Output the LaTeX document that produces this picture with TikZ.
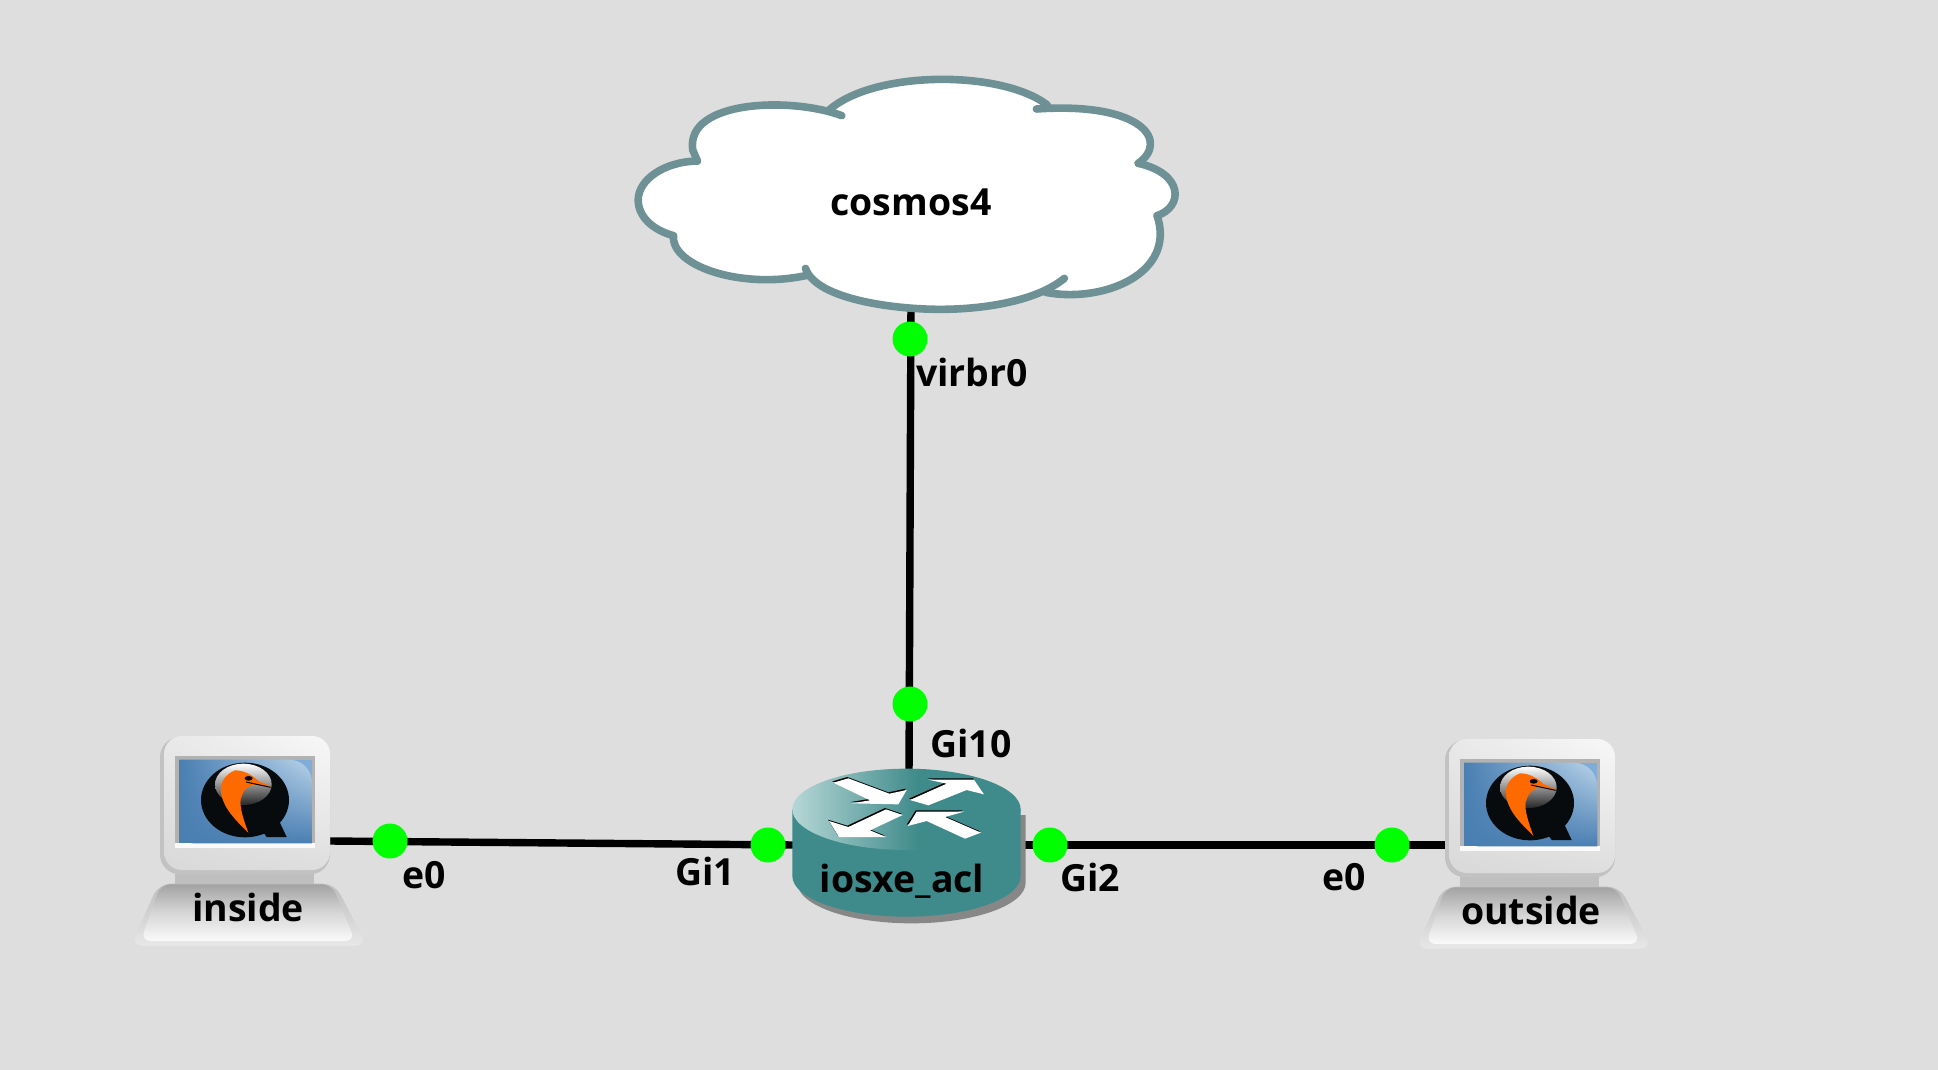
\documentclass[tikz,border=0pt]{standalone}
\usepackage{fontspec}
\setmainfont{Open Sans}
\usetikzlibrary{calc,shadings}
\definecolor{bgc}{HTML}{DEDEDE}
\definecolor{cloudline}{HTML}{6E9196}
\definecolor{teal1}{HTML}{3F8A8A}
\definecolor{teallight}{HTML}{B8D8D8}
\definecolor{portgreen}{HTML}{00FF00}
\definecolor{scrblue}{HTML}{4A7FB2}
\definecolor{scrmid}{HTML}{7FADD8}
\definecolor{scrlight}{HTML}{BAD4EA}
\definecolor{qblack}{HTML}{080B0E}
\definecolor{birdorange}{HTML}{FF6A00}
\tikzset{
  lbl/.style={font=\fontsize{18.7}{20}\selectfont\bfseries, text=black, inner sep=0pt},
  linkline/.style={draw=black, line width=3.7pt},
  port/.style={circle, fill=portgreen, draw=none, minimum size=17.5pt, inner sep=0pt},
  zoomunits/.style={x=0.16667pt, y=-0.16667pt},
  computer/.pic={
    \begin{scope}[zoomunits]
      % base
      \shade[top color=black!26!white, bottom color=black!9!white, rounded corners=6pt] (116,488) -- (644,488) -- (742,674) -- (32,674) -- cycle;
      \shade[top color=black!36!white, bottom color=black!2!white, middle color=black!16!white, rounded corners=5pt] (122,490) -- (635,490) -- (706,660) -- (62,660) -- cycle;
      % neck
      \fill[black!25!white] (165,458) rectangle (582,490);
      % monitor
      \fill[black!24!white, rounded corners=10pt] (120,48) rectangle (630,460);
      \shade[lower left=black!15!white, upper right=black!3!white, lower right=black!13!white, upper left=black!9!white, rounded corners=9pt] (132,45) rectangle (630,447);
      % screen
      \fill[black!30!white] (164,106) rectangle (586,382);
      \fill[black!2!white] (164,367) rectangle (586,380);
      \fill[scrblue] (178,116) rectangle (577,367);
      \fill[scrmid] (400,116) rectangle (577,240);
      \shade[lower left=scrblue, upper right=scrlight, upper left=scrblue, lower right=scrblue] (178,116) -- (505,116) .. controls (550,116) and (577,150) .. (577,190) -- (577,367) -- (220,367) .. controls (195,367) and (178,335) .. (178,310) -- cycle;
      % Q logo
      \fill[qblack] (375,237) ellipse [x radius=132, y radius=112];
      \fill[qblack] (475,295) -- (500,348) -- (440,348) -- (420,320) -- cycle;
      \shade[top color=white, bottom color=black!85!white] (370,190) ellipse [x radius=85, y radius=62];
      \fill[birdorange] (345,148) .. controls (375,148) and (400,165) .. (415,180) -- (455,197) -- (405,190) .. controls (385,192) and (370,205) .. (362,235) .. controls (358,260) and (372,300) .. (385,335) .. controls (350,300) and (305,260) .. (302,205) .. controls (302,185) and (315,160) .. (345,148) -- cycle;
      \fill[black] (386,172) ellipse [x radius=12, y radius=7];
      \draw[black, line width=0.5pt] (378,183) -- (452,199);
    \end{scope}
  }
}
\newcommand{\routerarrow}[1]{\fill[black,shift={(-3,-4)}] #1; \fill[white] #1;}
\begin{document}
\begin{tikzpicture}[x=0.5pt,y=-0.5pt]
  \useasboundingbox (0,0) rectangle (1938,1070);
  \fill[bgc] (0,0) rectangle (1938,1070);

  % anchors of the links
  \coordinate (cloudfoot) at (911,300);
  \coordinate (routertop) at (909,775);
  \coordinate (routerleft) at (795,845);
  \coordinate (routerright) at (1025,845);
  \coordinate (insidelink) at (330,841);
  \coordinate (outsidelink) at (1446,845);

  % links
  \draw[linkline] (cloudfoot) -- (routertop);
  \draw[linkline] (insidelink) -- (routerleft);
  \draw[linkline] (routerright) -- (outsidelink);

  % cloud
  \begin{scope}[shift={(620,60)}, x=0.18182pt, y=-0.16667pt]
    \fill[white] (610,167) .. controls (470,110) and (180,120) .. (200,270) -- (213,303)
      .. controls (120,305) and (50,360) .. (50,420) .. controls (50,470) and (90,510) .. (147,527)
      .. controls (140,620) and (340,690) .. (518,645) .. controls (570,720) and (1020,800) .. (1170,697)
      .. controls (1330,730) and (1530,640) .. (1477,467) .. controls (1550,440) and (1550,340) .. (1425,310)
      .. controls (1510,245) and (1440,125) .. (1175,135)
      .. controls (1050,30) and (700,30) .. (575,150) -- cycle;
    \begin{scope}[draw=cloudline, line width=3.8pt, line cap=round, line join=round]
      \draw (610,167) .. controls (470,110) and (180,120) .. (200,270) -- (213,303);
      \draw (213,303) .. controls (120,305) and (50,360) .. (50,420) .. controls (50,470) and (90,510) .. (147,527);
      \draw (147,527) .. controls (140,620) and (340,690) .. (518,645);
      \draw (510,625) .. controls (540,720) and (760,748) .. (880,748) .. controls (1010,748) and (1150,720) .. (1222,655);
      \draw (1170,697) .. controls (1330,730) and (1530,640) .. (1477,467);
      \draw (1477,467) .. controls (1550,440) and (1550,340) .. (1425,310);
      \draw (1425,310) .. controls (1510,245) and (1440,125) .. (1145,147);
      \draw (1175,135) .. controls (1050,30) and (700,30) .. (575,150);
    \end{scope}
  \end{scope}
  \node[lbl] (cosmos) at (911,202) {cosmos4};

  % router
  \begin{scope}[shift={(770,741)}, zoomunits]
    \fill[black!47!white] (82,222) -- (767,222) -- (767,425) arc[start angle=0, end angle=180, x radius=342.5, y radius=122] -- cycle;
    \fill[teal1] (67,205) -- (752,205) -- (752,405) arc[start angle=0, end angle=180, x radius=342.5, y radius=122] -- cycle;
    \begin{scope}
      \clip (409.5,205) ellipse [x radius=342.5, y radius=122];
      \fill[teal1] (440,60) rectangle (770,340);
      \shade[left color=teallight, right color=teal1] (60,60) rectangle (445,340);
    \end{scope}
    \routerarrow{(190,125) -- (235,112) -- (358,158) -- (410,147) -- (385,190) -- (245,187) -- (300,178) -- cycle}
    \routerarrow{(420,177) -- (530,128) -- (475,116) -- (612,116) -- (642,160) -- (590,147) -- (475,193) -- cycle}
    \routerarrow{(177,240) -- (235,258) -- (348,205) -- (398,222) -- (300,268) -- (348,288) -- (207,288) -- cycle}
    \routerarrow{(413,255) -- (440,212) -- (582,212) -- (525,228) -- (633,275) -- (585,293) -- (470,240) -- cycle}
  \end{scope}
  \node[lbl] (router) at (902,881) {iosxe\_acl};

  % computers
  \pic at (120,721) {computer};
  \pic at (1405,724) {computer};
  \node[lbl] (inside) at (248,907) {inside};
  \node[lbl] (outside) at (1531,910) {outside};

  % ports
  \node[port] (p1) at (910,339) {};
  \node[port] (p2) at (910,704) {};
  \node[port] (p3) at (390,841) {};
  \node[port] (p4) at (768,845) {};
  \node[port] (p5) at (1050,845) {};
  \node[port] (p6) at (1392,845) {};

  % port labels
  \node[lbl] (l1) at (972,372) {virbr0};
  \node[lbl] (l2) at (971,743) {Gi10};
  \node[lbl] (l3) at (424,875) {e0};
  \node[lbl] (l4) at (705,871) {Gi1};
  \node[lbl] (l5) at (1090,877) {Gi2};
  \node[lbl] (l6) at (1344,877) {e0};
\end{tikzpicture}
\end{document}
